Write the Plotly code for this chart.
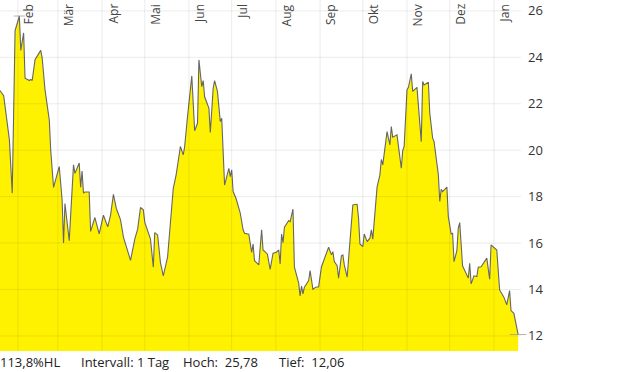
import plotly.graph_objects as go

# ---- data ----
dates = [
    "2023-01-19", "2023-01-21", "2023-01-22", "2023-01-26", "2023-01-28", "2023-01-30",
    "2023-02-02", "2023-02-03", "2023-02-05", "2023-02-06", "2023-02-09", "2023-02-10",
    "2023-02-11", "2023-02-13", "2023-02-17", "2023-02-18", "2023-02-20", "2023-02-23",
    "2023-02-24", "2023-02-26", "2023-03-02", "2023-03-04", "2023-03-05", "2023-03-06",
    "2023-03-09", "2023-03-12", "2023-03-13", "2023-03-16", "2023-03-17", "2023-03-18",
    "2023-03-19", "2023-03-20", "2023-03-23", "2023-03-24", "2023-03-27", "2023-03-30",
    "2023-04-02", "2023-04-05", "2023-04-07", "2023-04-09", "2023-04-11", "2023-04-14",
    "2023-04-16", "2023-04-21", "2023-04-24", "2023-04-26", "2023-04-28", "2023-04-30",
    "2023-05-01", "2023-05-05", "2023-05-07", "2023-05-08", "2023-05-10", "2023-05-12",
    "2023-05-14", "2023-05-17", "2023-05-21", "2023-05-23", "2023-05-26", "2023-05-28",
    "2023-05-29", "2023-05-31", "2023-06-03", "2023-06-05", "2023-06-07", "2023-06-08",
    "2023-06-10", "2023-06-11", "2023-06-12", "2023-06-15", "2023-06-16", "2023-06-18",
    "2023-06-19", "2023-06-21", "2023-06-23", "2023-06-24", "2023-06-26", "2023-06-29",
    "2023-06-30", "2023-07-01", "2023-07-02", "2023-07-04", "2023-07-07", "2023-07-09",
    "2023-07-10", "2023-07-13", "2023-07-15", "2023-07-16", "2023-07-17", "2023-07-20",
    "2023-07-22", "2023-07-23", "2023-07-26", "2023-07-28", "2023-07-30", "2023-08-01",
    "2023-08-03", "2023-08-04", "2023-08-05", "2023-08-06", "2023-08-07", "2023-08-10",
    "2023-08-11", "2023-08-13", "2023-08-14", "2023-08-17", "2023-08-18", "2023-08-19",
    "2023-08-20", "2023-08-21", "2023-08-24", "2023-08-25", "2023-08-27", "2023-08-29",
    "2023-08-31", "2023-09-02", "2023-09-06", "2023-09-07", "2023-09-09", "2023-09-10",
    "2023-09-11", "2023-09-13", "2023-09-14", "2023-09-16", "2023-09-17", "2023-09-18",
    "2023-09-20", "2023-09-22", "2023-09-23", "2023-09-24", "2023-09-27", "2023-09-28",
    "2023-09-29", "2023-10-01", "2023-10-02", "2023-10-04", "2023-10-06", "2023-10-07",
    "2023-10-08", "2023-10-10", "2023-10-11", "2023-10-13", "2023-10-14", "2023-10-15",
    "2023-10-18", "2023-10-20", "2023-10-21", "2023-10-22", "2023-10-25", "2023-10-28",
    "2023-10-29", "2023-10-30", "2023-11-01", "2023-11-02", "2023-11-04", "2023-11-05",
    "2023-11-08", "2023-11-11", "2023-11-12", "2023-11-13", "2023-11-16", "2023-11-17",
    "2023-11-19", "2023-11-20", "2023-11-23", "2023-11-24", "2023-11-25", "2023-11-26",
    "2023-11-29", "2023-11-30", "2023-12-02", "2023-12-03", "2023-12-04", "2023-12-06",
    "2023-12-07", "2023-12-08", "2023-12-10", "2023-12-14", "2023-12-15", "2023-12-16",
    "2023-12-18", "2023-12-20", "2023-12-21", "2023-12-23", "2023-12-27", "2023-12-29",
    "2023-12-30", "2024-01-03", "2024-01-05", "2024-01-08", "2024-01-10", "2024-01-12",
    "2024-01-13", "2024-01-15", "2024-01-18",
]
values = [
    22.6, 22.4, 22.35, 20.45, 18.15, 25.15,
    25.78, 24.3, 25.05, 23.1, 23.0, 23.05,
    23.0, 23.9, 24.3, 23.98, 22.6, 21.3,
    20.0, 18.4, 19.3, 17.85, 16.0, 17.7,
    16.1, 19.37, 19.0, 19.45, 18.4, 19.1,
    18.15, 18.2, 18.2, 16.5, 17.1, 16.4,
    17.2, 16.7, 17.2, 18.1, 17.5, 17.0,
    16.27, 15.25, 16.17, 16.6, 17.53, 17.43,
    16.9, 16.17, 14.96, 16.45, 16.35, 15.16,
    14.59, 15.39, 18.36, 18.94, 20.16, 19.8,
    20.16, 21.45, 23.2, 20.84, 21.16, 23.89,
    22.74, 23.0, 22.3, 21.81, 20.76, 22.67,
    23.0, 22.53, 21.23, 21.38, 18.5, 19.22,
    18.86, 19.15, 18.22, 17.93, 17.29, 16.57,
    16.42, 16.38, 15.6, 15.96, 15.24, 15.06,
    16.57, 15.7, 15.53, 14.87, 15.56, 15.59,
    15.7, 15.1, 16.39, 16.02, 16.68, 16.97,
    16.92, 17.46, 14.96, 14.27, 13.72, 14.15,
    13.81, 14.1, 14.38, 14.81, 14.01, 14.1,
    14.12, 14.98, 15.59, 15.82, 15.49, 15.63,
    15.2, 15.02, 14.49, 15.45, 15.49, 15.06,
    14.53, 15.99, 16.83, 17.64, 17.67, 17.07,
    15.96, 15.85, 16.39, 16.06, 16.21, 16.57,
    16.17, 17.57, 18.41, 18.94, 19.6, 19.37,
    20.8, 20.23, 21.02, 20.56, 20.66, 19.22,
    19.98, 20.16, 22.6, 22.71, 23.29, 22.53,
    22.71, 20.37, 22.96, 22.81, 22.93, 21.59,
    20.52, 20.37, 18.94, 17.79, 18.32, 18.22,
    18.41, 17.14, 16.39, 16.42, 15.2, 15.67,
    16.64, 16.88, 15.02, 14.49, 15.13, 14.24,
    14.59, 14.56, 14.96, 14.98, 15.35, 14.44,
    15.92, 15.7, 13.98, 13.67, 13.34, 13.95,
    13.09, 12.97, 12.06,
]
month_ticks = ["2023-02-01", "2023-03-01", "2023-04-01", "2023-05-01", "2023-06-01",
               "2023-07-01", "2023-08-01", "2023-09-01", "2023-10-01", "2023-11-01",
               "2023-12-01", "2024-01-01"]
month_labels = ["Feb", "Mär", "Apr", "Mai", "Jun", "Jul", "Aug", "Sep", "Okt", "Nov",
                "Dez", "Jan"]
y_ticks = [12, 14, 16, 18, 20, 22, 24, 26]
interval_text = "1 Tag"

x_range = ["2023-01-19 10:00", "2024-01-20 00:00"]
y_range = [11.35, 26.47]

hi = max(values)
lo = min(values)
i_hi = values.index(hi)
i_lo = values.index(lo)
hl_pct = (hi - lo) / lo * 100


def de(v, nd=2):
    return f"{v:.{nd}f}".replace(".", ",")


fig = go.Figure()
fig.add_trace(go.Scatter(
    x=dates, y=values, mode="lines", fill="tozeroy",
    fillcolor="#fff200", line=dict(color="#666666", width=1.1),
    hoverinfo="skip", showlegend=False,
))
fig.add_trace(go.Scatter(
    x=[dates[i_hi], dates[i_lo]], y=[hi, lo], mode="markers",
    marker=dict(symbol="line-ew", size=[8, 12], line=dict(color="#999999", width=1)),
    cliponaxis=False, hoverinfo="skip", showlegend=False,
))

grid_col = "rgba(0,0,0,0.08)"
shapes = []
for d in month_ticks:
    shapes.append(dict(type="line", xref="x", yref="paper", x0=d, x1=d, y0=0, y1=1,
                       line=dict(color=grid_col, width=1), layer="above"))
for t in y_ticks:
    shapes.append(dict(type="line", xref="paper", yref="y", x0=0, x1=1, y0=t, y1=t,
                       line=dict(color=grid_col, width=1), layer="above"))

annotations = []
for d, lab in zip(month_ticks, month_labels):
    annotations.append(dict(x=d, y=1, xref="x", yref="paper", text=lab, textangle=-90,
                            showarrow=False, xanchor="left", yanchor="top",
                            xshift=0, yshift=-2,
                            font=dict(size=12, color="#444444")))

foot_font = dict(size=13, color="#222222")
footer = [
    (0.0, f"{de(hl_pct, 1)}%HL"),
    (0.1555, f"Intervall: {interval_text}"),
    (0.351, f"Hoch:\u00a0 {de(hi)}"),
    (0.5355, f"Tief:\u00a0 {de(lo)}"),
]
for xp, txt in footer:
    annotations.append(dict(x=xp, y=0, xref="paper", yref="paper", text=txt,
                            showarrow=False, xanchor="left", yanchor="middle",
                            xshift=-2, yshift=-11, font=foot_font))

fig.update_layout(
    width=620, height=372,
    margin=dict(l=0, r=99, t=0, b=21),
    paper_bgcolor="white", plot_bgcolor="white",
    font=dict(family="Open Sans, sans-serif"),
    shapes=shapes, annotations=annotations,
    xaxis=dict(type="date", range=x_range, showgrid=False, showticklabels=False,
               zeroline=False, showline=False, ticks=""),
    yaxis=dict(side="right", range=y_range, tickvals=y_ticks,
               ticktext=[str(t) for t in y_ticks], showgrid=False, zeroline=False,
               showline=False, ticks="", ticklabelstandoff=6,
               tickfont=dict(size=13, color="#333333")),
)

fig.write_html("out.html")
